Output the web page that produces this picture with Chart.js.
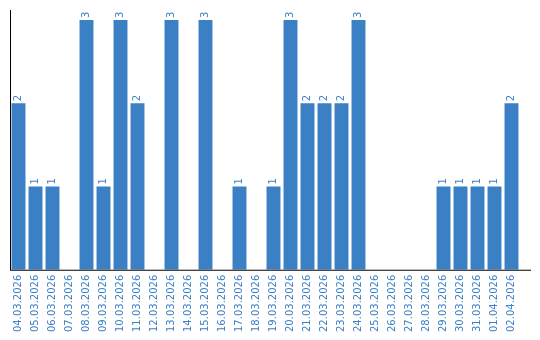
<!DOCTYPE html>
<html>
<head>
<meta charset="utf-8">
<script src="https://cdn.jsdelivr.net/npm/chart.js@4"></script>
<style>
  html, body { margin: 0; padding: 0; background: #fff; }
  #wrap { width: 540px; height: 340px; }
</style>
</head>
<body>
<div id="wrap"><canvas id="myChart"></canvas></div>
<script>
const days = ['04.03.2026', '05.03.2026', '06.03.2026', '07.03.2026', '08.03.2026',
  '09.03.2026', '10.03.2026', '11.03.2026', '12.03.2026', '13.03.2026',
  '14.03.2026', '15.03.2026', '16.03.2026', '17.03.2026', '18.03.2026',
  '19.03.2026', '20.03.2026', '21.03.2026', '22.03.2026', '23.03.2026',
  '24.03.2026', '25.03.2026', '26.03.2026', '27.03.2026', '28.03.2026',
  '29.03.2026', '30.03.2026', '31.03.2026', '01.04.2026', '02.04.2026'];
const counts = [2, 1, 1, 0, 3, 1, 3, 2, 0, 3,
  0, 3, 0, 1, 0, 1, 3, 2, 2, 2,
  3, 0, 0, 0, 0, 1, 1, 1, 1, 2];
const yMax = 3.12;

const blue = '#3b7fc4';

// value text on top of bars, turned like the tick labels
const barValues = {
  id: 'barValues',
  afterDatasetsDraw(chart) {
    const c = chart.ctx;
    const meta = chart.getDatasetMeta(0);
    c.save();
    c.fillStyle = blue;
    c.font = '10px "DejaVu Sans"';
    c.textAlign = 'left';
    c.textBaseline = 'middle';
    meta.data.forEach((bar, i) => {
      if (!counts[i]) return;
      c.save();
      c.translate(bar.x, bar.y - 2);
      c.rotate(-Math.PI / 2);
      c.fillText(String(counts[i]), 0, 0);
      c.restore();
    });
    c.restore();
  }
};

// x axis line runs a bit past the last category
const axisLine = {
  id: 'axisLine',
  afterDraw(chart) {
    const a = chart.chartArea;
    const c = chart.ctx;
    c.save();
    c.strokeStyle = '#000';
    c.lineWidth = 1;
    c.beginPath();
    c.moveTo(a.left, a.bottom + 0.5);
    c.lineTo(a.right + 11, a.bottom + 0.5);
    c.stroke();
    c.restore();
  }
};

let ctx = document.getElementById('myChart');

let myChart = new Chart(ctx, {
  type: 'bar',
  data: {
    labels: days,
    datasets: [{
      data: counts,
      backgroundColor: blue,
      barPercentage: 0.82,
      categoryPercentage: 1
    }]
  },
  options: {
    responsive: true,
    maintainAspectRatio: false,
    animation: false,
    layout: {
      padding: { left: 10, right: 20, top: 10, bottom: 3 }
    },
    scales: {
      x: {
        grid: { display: false, drawTicks: false },
        border: { display: false },
        ticks: {
          color: blue,
          font: { family: 'DejaVu Sans', size: 10 },
          minRotation: 90,
          maxRotation: 90,
          autoSkip: false,
          padding: 5
        }
      },
      y: {
        min: 0,
        max: yMax,
        grid: { display: false, drawTicks: false },
        border: { display: true, color: '#000', width: 1 },
        ticks: { display: false }
      }
    },
    plugins: {
      legend: { display: false },
      tooltip: { enabled: false }
    }
  },
  plugins: [barValues, axisLine]
});
</script>
</body>
</html>
